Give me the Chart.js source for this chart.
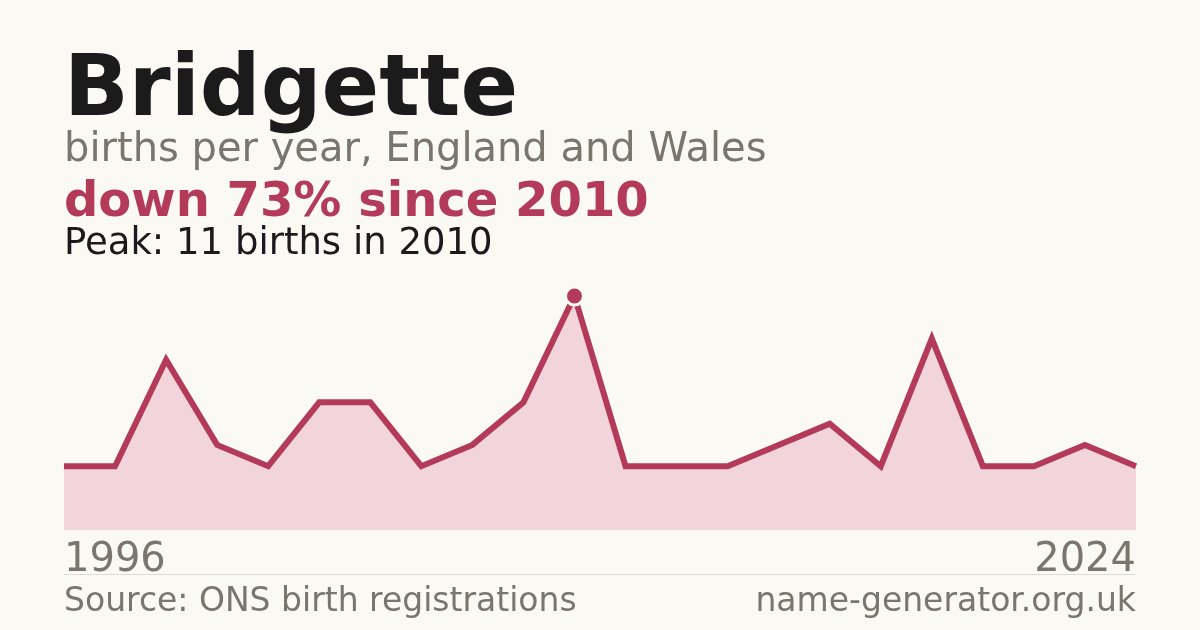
<!DOCTYPE html>
<html>
<head>
<meta charset="utf-8">
<script src="https://cdn.jsdelivr.net/npm/chart.js@4"></script>
<style>
  body { margin: 0; background: #faf9f4; font-family: "DejaVu Sans", sans-serif; }
  #wrap { position: relative; width: 1200px; height: 630px; overflow: hidden; }
  #chart { position: absolute; left: 0; top: 0; }
  .t { position: absolute; left: 64px; white-space: nowrap; line-height: 1; }
  #title { top: 43px; font-size: 85px; font-weight: bold; color: #1b1b1b; }
  #sub { top: 127px; font-size: 40px; color: #7a756d; }
  #change { top: 175px; font-size: 48px; font-weight: bold; color: #b33a58; }
  #peak { top: 223px; font-size: 37px; color: #1b1b1b; }
  .yr { top: 537px; font-size: 40px; color: #7a756d; }
  #last { left: auto; right: 64px; }
  #rule { position: absolute; left: 64px; right: 64px; top: 574px; height: 1px; background: #dedbd3; }
  .foot { top: 583px; font-size: 33px; color: #7a756d; }
  #site { left: auto; right: 64px; }
</style>
</head>
<body>
<div id="wrap">
  <canvas id="chart" width="1200" height="630"></canvas>
  <div class="t" id="title">Bridgette</div>
  <div class="t" id="sub">births per year, England and Wales</div>
  <div class="t" id="change">down 73% since 2010</div>
  <div class="t" id="peak">Peak: 11 births in 2010</div>
  <div class="t yr" id="first"></div>
  <div class="t yr" id="last"></div>
  <div id="rule"></div>
  <div class="t foot">Source: ONS birth registrations</div>
  <div class="t foot" id="site">name-generator.org.uk</div>
</div>
<script>
// years with registered births (others suppressed)
const years = [1996, 1997, 1998, 1999, 2000, 2002, 2003, 2005, 2006, 2008, 2010,
               2011, 2012, 2014, 2015, 2017, 2018, 2019, 2020, 2022, 2023, 2024];
const births = [3, 3, 8, 4, 3, 6, 6, 3, 4, 6, 11,
                3, 3, 3, 4, 5, 3, 9, 3, 3, 4, 3];
const peakIndex = births.indexOf(Math.max(...births));

document.getElementById('first').textContent = years[0];
document.getElementById('last').textContent = years[years.length - 1];

var ctx = document.getElementById('chart').getContext('2d');

new Chart(ctx, {
    type: 'line',
    data: {
        labels: years,
        datasets: [{
            data: births,
            borderColor: '#b33a58',
            borderWidth: 6,
            backgroundColor: '#f2d5da',
            fill: 'origin',
            tension: 0,
            clip: false,
            pointRadius: births.map((v, i) => i === peakIndex ? 9 : 0),
            pointBackgroundColor: '#b33a58',
            pointBorderColor: '#faf9f4',
            pointBorderWidth: 3
        }]
    },
    options: {
        responsive: false,
        animation: false,
        layout: { padding: { left: 64, right: 64, top: 296, bottom: 100 } },
        scales: {
            x: { display: false, offset: false },
            y: { display: false, min: 0, max: 11 }
        },
        plugins: {
            legend: { display: false },
            tooltip: { enabled: false }
        }
    }
});
</script>
</body>
</html>
